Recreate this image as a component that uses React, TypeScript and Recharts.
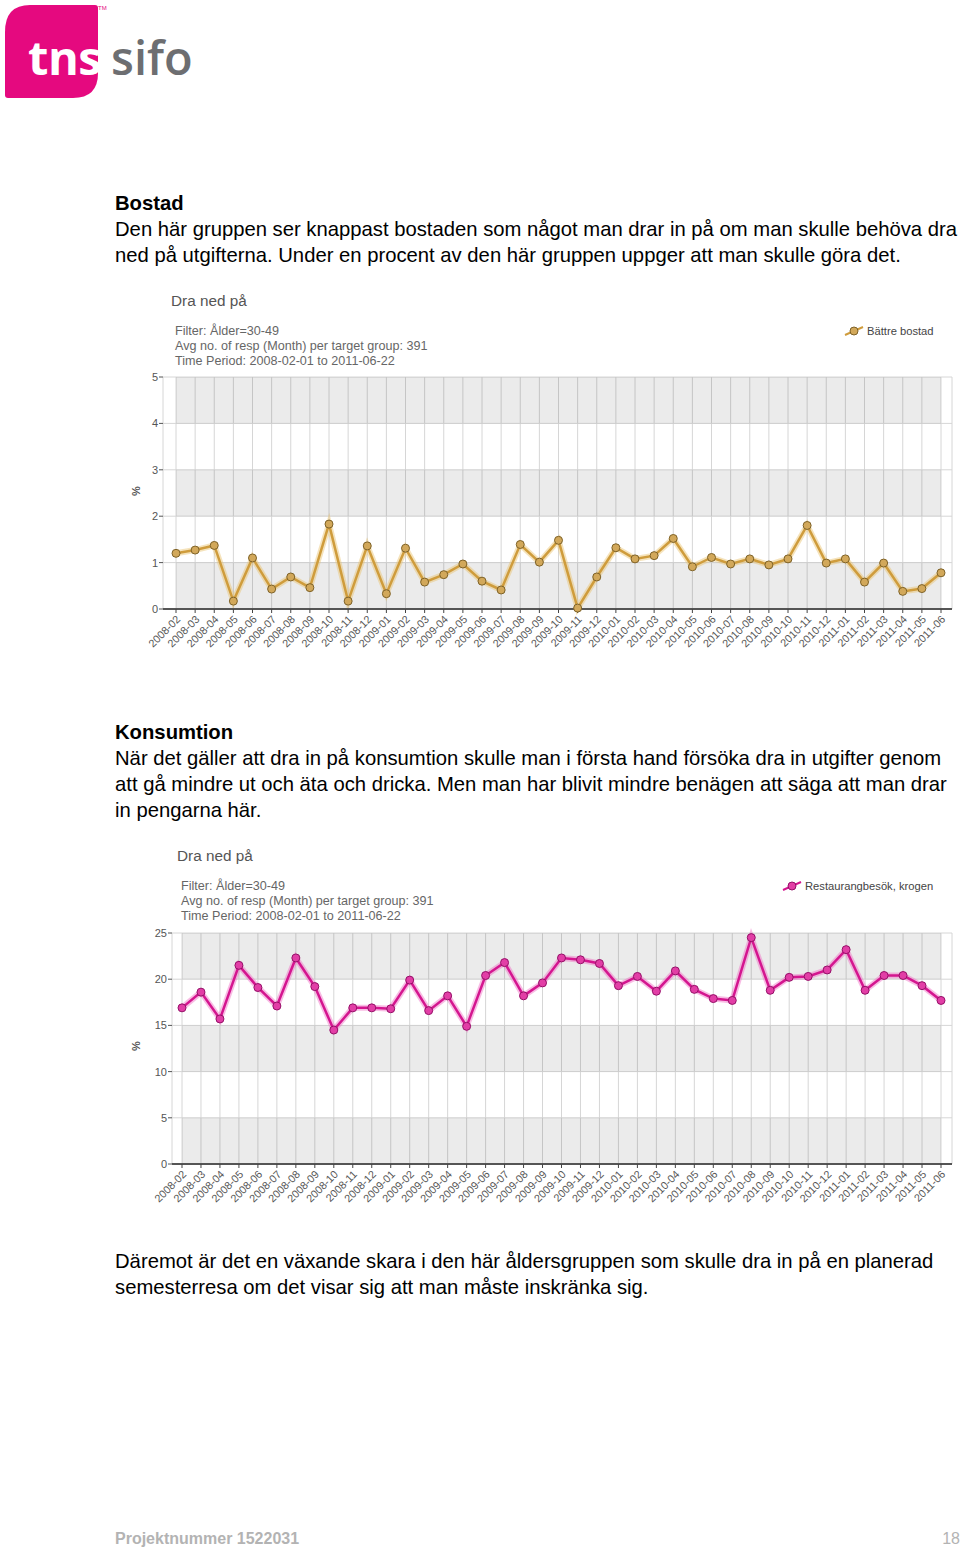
import { LineChart, Line, XAxis, YAxis, CartesianGrid, ReferenceArea } from 'recharts';

const months = [
  '2008-02', '2008-03', '2008-04', '2008-05', '2008-06', '2008-07', '2008-08', '2008-09', '2008-10', '2008-11', '2008-12',
  '2009-01', '2009-02', '2009-03', '2009-04', '2009-05', '2009-06', '2009-07', '2009-08', '2009-09', '2009-10', '2009-11', '2009-12',
  '2010-01', '2010-02', '2010-03', '2010-04', '2010-05', '2010-06', '2010-07', '2010-08', '2010-09', '2010-10', '2010-11', '2010-12',
  '2011-01', '2011-02', '2011-03', '2011-04', '2011-05', '2011-06',
];

// Bättre bostad (%)
const bostadValues = [
  1.2, 1.27, 1.37, 0.17, 1.1, 0.43, 0.69, 0.46, 1.83, 0.17, 1.36,
  0.33, 1.31, 0.58, 0.74, 0.97, 0.6, 0.41, 1.39, 1.01, 1.48, 0.02, 0.69,
  1.32, 1.08, 1.15, 1.52, 0.91, 1.11, 0.97, 1.08, 0.95, 1.08, 1.8, 0.99,
  1.08, 0.58, 0.99, 0.38, 0.44, 0.78,
];

// Restaurangbesök, krogen (%)
const restaurangValues = [
  16.9, 18.6, 15.7, 21.5, 19.1, 17.1, 22.3, 19.2, 14.5, 16.9, 16.9,
  16.8, 19.9, 16.6, 18.2, 14.9, 20.4, 21.8, 18.2, 19.6, 22.3, 22.1, 21.7,
  19.3, 20.3, 18.7, 20.9, 18.9, 17.9, 17.7, 24.5, 18.8, 20.2, 20.3, 21.0,
  23.2, 18.8, 20.4, 20.4, 19.3, 17.7,
];

const bostadTicks = [0, 1, 2, 3, 4, 5];
const restaurangTicks = [0, 5, 10, 15, 20, 25];

const filterLines = [
  'Filter: Ålder=30-49',
  'Avg no. of resp (Month) per target group: 391',
  'Time Period: 2008-02-01 to 2011-06-22',
];

const bodyFont = '"Liberation Sans", Arial, sans-serif';

const AngledTick = (props: any) => {
  const { x, y, payload } = props;
  return (
    <g transform={`translate(${x + 5},${y + 5})`}>
      <text x={0} y={0} textAnchor="end" transform="rotate(-45)" fontSize={10.8} fill="#555" fontFamily={bodyFont}>
        {payload.value}
      </text>
    </g>
  );
};

interface TrendChartProps {
  top: number;
  values: number[];
  ticks: number[];
  yWidth: number;
  padLeft: number;
  headerLeft: number;
  legendLeft: number;
  legendLabel: string;
  lineColor: string;
  haloColor: string;
  dotFill: string;
  dotStroke: string;
}

function TrendChart({
  top, values, ticks, yWidth, padLeft, headerLeft, legendLeft, legendLabel,
  lineColor, haloColor, dotFill, dotStroke,
}: TrendChartProps) {
  const data = months.map((month, i) => ({ month, value: values[i] }));
  // grey bands on every other interval, starting from zero
  const bands = ticks.slice(0, -1).map((t, i) => ({ y1: t, y2: ticks[i + 1] })).filter((_, i) => i % 2 === 0);

  return (
    <>
      <div style={{ position: 'absolute', left: headerLeft, top: top - 78, fontSize: 15.3, color: '#555', fontFamily: bodyFont }}>
        Dra ned på
      </div>
      <div style={{ position: 'absolute', left: headerLeft + 4, top: top - 46, fontSize: 12.6, lineHeight: '15px', color: '#666', fontFamily: bodyFont }}>
        {filterLines.map((l) => (
          <div key={l}>{l}</div>
        ))}
      </div>
      <div style={{ position: 'absolute', left: legendLeft, top: top - 45, display: 'flex', alignItems: 'center', fontSize: 11.2, color: '#444', fontFamily: bodyFont }}>
        <svg width={20} height={12} style={{ marginRight: 3 }}>
          <line x1={1} y1={10} x2={19} y2={2} stroke={lineColor} strokeWidth={2} />
          <circle cx={10} cy={6} r={4} fill={dotFill} stroke={dotStroke} strokeWidth={1} />
        </svg>
        {legendLabel}
      </div>
      <div
        style={{
          position: 'absolute', left: 130, top: top + 115, width: 12, textAlign: 'center',
          transform: 'rotate(-90deg)', fontSize: 11, fontWeight: 'bold', color: '#555', fontFamily: bodyFont,
        }}
      >
        %
      </div>
      <div style={{ position: 'absolute', left: 120, top }}>
        <LineChart width={840} height={300} data={data} margin={{ top: top === 370 ? 7 : 8, right: 8, bottom: 6, left: 0 }}>
          {bands.map((b) => (
            <ReferenceArea key={b.y1} y1={b.y1} y2={b.y2} fill="#000" fillOpacity={0.08} stroke="none" />
          ))}
          <CartesianGrid stroke="#d6d6d6" strokeWidth={1} />
          <XAxis
            dataKey="month"
            interval={0}
            height={55}
            padding={{ left: padLeft, right: 11 }}
            axisLine={{ stroke: '#555', strokeWidth: 2 }}
            tickLine={{ stroke: '#444' }}
            tickSize={4}
            tick={<AngledTick />}
          />
          <YAxis
            width={yWidth}
            domain={[ticks[0], ticks[ticks.length - 1]]}
            ticks={ticks}
            axisLine={false}
            tickLine={{ stroke: '#555' }}
            tickSize={4}
            tickMargin={1}
            tick={{ fontSize: 11, fill: '#555', fontFamily: bodyFont }}
          />
          <Line
            dataKey="value"
            stroke={haloColor}
            strokeWidth={6}
            strokeOpacity={0.45}
            dot={false}
            activeDot={false}
            isAnimationActive={false}
            legendType="none"
          />
          <Line
            dataKey="value"
            stroke={lineColor}
            strokeWidth={2.5}
            dot={{ r: 4, fill: dotFill, stroke: dotStroke, strokeWidth: 1 }}
            isAnimationActive={false}
          />
        </LineChart>
      </div>
    </>
  );
}

const paragraph: React.CSSProperties = {
  position: 'absolute',
  left: 115,
  fontFamily: bodyFont,
  fontSize: 20.25,
  lineHeight: '26px',
  color: '#000',
  whiteSpace: 'nowrap',
};

export default function App() {
  return (
    <div style={{ position: 'absolute', left: 0, top: 0, width: 960, height: 1553, background: '#fff', overflow: 'hidden' }}>
      {/* logo */}
      <svg width={200} height={105} style={{ position: 'absolute', left: 0, top: 0 }}>
        <path d="M5,32 Q5,5 30,5 L95,5 Q98,5 98,8 L98,73 Q98,98 73,98 L8,98 Q5,98 5,95 Z" fill="#e5097f" />
        <text x={28} y={75} fill="#fff" fontSize={47} fontWeight={700} fontFamily='"Open Sans", sans-serif' letterSpacing={-0.5}>
          tns
        </text>
        <text x={111} y={75} fill="#6d6e71" fontSize={47} fontWeight={600} fontFamily='"Open Sans", sans-serif' letterSpacing={0}>
          sifo
        </text>
        <text x={98} y={10} fill="#e5097f" fontSize={6} fontFamily={bodyFont}>
          TM
        </text>
      </svg>

      <div style={{ ...paragraph, top: 190 }}>
        <b>Bostad</b>
        <br />
        Den här gruppen ser knappast bostaden som något man drar in på om man skulle behöva dra
        <br />
        ned på utgifterna. Under en procent av den här gruppen uppger att man skulle göra det.
      </div>

      <TrendChart
        top={370}
        values={bostadValues}
        ticks={bostadTicks}
        yWidth={43}
        padLeft={13}
        headerLeft={171}
        legendLeft={844}
        legendLabel="Bättre bostad"
        lineColor="#cf9c3c"
        haloColor="#e8c06a"
        dotFill="#d2a85a"
        dotStroke="#7e6228"
      />

      <div style={{ ...paragraph, top: 719 }}>
        <b>Konsumtion</b>
        <br />
        När det gäller att dra in på konsumtion skulle man i första hand försöka dra in utgifter genom
        <br />
        att gå mindre ut och äta och dricka. Men man har blivit mindre benägen att säga att man drar
        <br />
        in pengarna här.
      </div>

      <TrendChart
        top={925}
        values={restaurangValues}
        ticks={restaurangTicks}
        yWidth={52}
        padLeft={10}
        headerLeft={177}
        legendLeft={782}
        legendLabel="Restaurangbesök, krogen"
        lineColor="#d4168f"
        haloColor="#f06ac4"
        dotFill="#e23ea6"
        dotStroke="#951068"
      />

      <div style={{ ...paragraph, top: 1248 }}>
        Däremot är det en växande skara i den här åldersgruppen som skulle dra in på en planerad
        <br />
        semesterresa om det visar sig att man måste inskränka sig.
      </div>

      <div
        style={{
          position: 'absolute', left: 115, top: 1530, fontSize: 16, fontWeight: 'bold', color: '#b3b3b3',
          fontFamily: '"Liberation Sans Narrow", "Liberation Sans", sans-serif',
        }}
      >
        Projektnummer 1522031
      </div>
      <div
        style={{
          position: 'absolute', right: 0, top: 1530, fontSize: 16, color: '#b3b3b3',
          fontFamily: '"Liberation Sans Narrow", "Liberation Sans", sans-serif',
        }}
      >
        18
      </div>
    </div>
  );
}
